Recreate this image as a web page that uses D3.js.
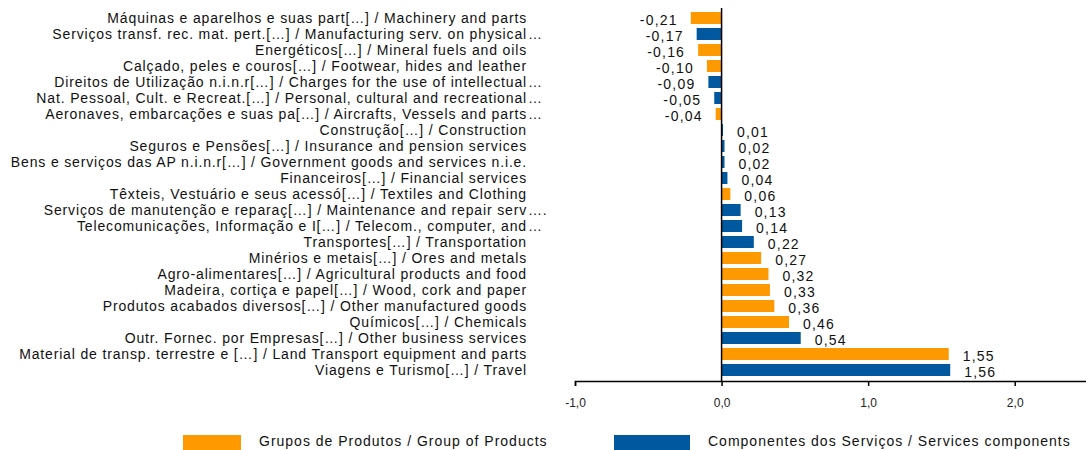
<!DOCTYPE html>
<html>
<head>
<meta charset="utf-8">
<script src="https://cdn.jsdelivr.net/npm/d3@7"></script>
<style>
  body { margin: 0; background: #fff; }
  svg { font-family: "Liberation Sans", Arial, sans-serif; }
</style>
</head>
<body>
<div id="chart"></div>
<script>
var categories = [
    "Máquinas e aparelhos e suas part[…] / Machinery and parts",
    "Serviços transf. rec. mat. pert.[…] / Manufacturing serv. on physical…",
    "Energéticos[…] / Mineral fuels and oils",
    "Calçado, peles e couros[…] / Footwear, hides and leather",
    "Direitos de Utilização n.i.n.r[…] / Charges for the use of intellectual…",
    "Nat. Pessoal, Cult. e Recreat.[…] / Personal, cultural and recreational…",
    "Aeronaves, embarcações e suas pa[…] / Aircrafts, Vessels and parts…",
    "Construção[…] / Construction",
    "Seguros e Pensões[…] / Insurance and pension services",
    "Bens e serviços das AP n.i.n.r[…] / Government goods and services n.i.e.",
    "Financeiros[…] / Financial services",
    "Têxteis, Vestuário e seus acessó[…] / Textiles and Clothing",
    "Serviços de manutenção e reparaç[…] / Maintenance and repair serv….",
    "Telecomunicações, Informação e I[…] / Telecom., computer, and…",
    "Transportes[…] / Transportation",
    "Minérios e metais[…] / Ores and metals",
    "Agro-alimentares[…] / Agricultural products and food",
    "Madeira, cortiça e papel[…] / Wood, cork and paper",
    "Produtos acabados diversos[…] / Other manufactured goods",
    "Químicos[…] / Chemicals",
    "Outr. Fornec. por Empresas[…] / Other business services",
    "Material de transp. terrestre e […] / Land Transport equipment and parts",
    "Viagens e Turismo[…] / Travel"
];
var values = [-0.21, -0.17, -0.16, -0.10, -0.09, -0.05, -0.04, 0.01, 0.02, 0.02, 0.04, 0.06,
    0.13, 0.14, 0.22, 0.27, 0.32, 0.33, 0.36, 0.46, 0.54, 1.55, 1.56];
// p = grupo de produtos, s = componente dos serviços
var groups = ["p", "s", "p", "p", "s", "s", "p", "s", "s", "s", "s", "p",
    "s", "s", "s", "p", "p", "p", "p", "p", "s", "p", "s"];
var seriesNames = ["Grupos de Produtos / Group of Products", "Componentes dos Serviços / Services components"];
var tickValues = [-1, 0, 1, 2];

var width = 1086, height = 450;
var color = { p: "#FF9900", s: "#00599F" };
var comma = function (f) {
    return function (v) { return d3.format(f)(v).replace("−", "-").replace(".", ","); };
};
var fmt = comma(".2f");

var dataset = categories.map(function (c, i) {
    return { name: c, value: values[i], group: groups[i] };
});

var svg = d3.select("#chart").append("svg")
    .attr("width", width)
    .attr("height", height);

var x = d3.scaleLinear().domain([-1, 2.5]).range([575, 1088]);
var y = d3.scaleBand().domain(categories).range([8, 380]).padding(0.25);

// barras
svg.append("g").selectAll("rect")
    .data(dataset)
    .enter()
    .append("rect")
    .attr("x", function (d) { return x(Math.min(0, d.value)); })
    .attr("y", function (d) { return y(d.name); })
    .attr("width", function (d) { return Math.abs(x(d.value) - x(0)); })
    .attr("height", y.bandwidth())
    .attr("fill", function (d) { return color[d.group]; });

// linha do zero
svg.append("line")
    .attr("x1", x(0)).attr("x2", x(0))
    .attr("y1", 8).attr("y2", 381)
    .attr("stroke", "#000")
    .attr("stroke-width", 1.5);

// eixo x
var axis = svg.append("g")
    .attr("transform", "translate(0,381)")
    .call(d3.axisBottom(x).tickValues(tickValues).tickSize(5).tickPadding(12)
        .tickFormat(comma(".1f")));
axis.select(".domain").attr("stroke", "#000").attr("stroke-width", 1.5);
axis.selectAll(".tick line").attr("stroke", "#000").attr("stroke-width", 1.5);
axis.selectAll(".tick text")
    .attr("font-size", "12px")
    .attr("font-family", "Liberation Sans, Arial, sans-serif")
    .attr("fill", "#222");

// rótulos das categorias (reticências ficam penduradas à direita)
var labels = svg.append("g").selectAll("g")
    .data(dataset)
    .enter()
    .append("g");

labels.append("text")
    .attr("x", 527)
    .attr("y", function (d) { return y(d.name) + y.bandwidth() / 2; })
    .attr("dy", "0.35em")
    .attr("text-anchor", "end")
    .attr("font-size", "14px")
    .attr("letter-spacing", "0.85px")
    .attr("fill", "#111")
    .text(function (d) { return d.name.replace(/…\.?$/, ""); });

labels.filter(function (d) { return /…\.?$/.test(d.name); })
    .append("text")
    .attr("x", 528)
    .attr("y", function (d) { return y(d.name) + y.bandwidth() / 2; })
    .attr("dy", "0.35em")
    .attr("font-size", "14px")
    .attr("letter-spacing", "0.85px")
    .attr("fill", "#111")
    .text(function (d) { return d.name.match(/…\.?$/)[0]; });

// valores
svg.append("g").selectAll("text")
    .data(dataset)
    .enter()
    .append("text")
    .attr("x", function (d) { return d.value < 0 ? x(d.value) - 13 : x(d.value) + 14; })
    .attr("y", function (d) { return y(d.name) + y.bandwidth() / 2 + 2; })
    .attr("dy", "0.35em")
    .attr("text-anchor", function (d) { return d.value < 0 ? "end" : "start"; })
    .attr("font-size", "14px")
    .attr("letter-spacing", "1.2px")
    .attr("fill", "#111")
    .text(function (d) { return fmt(d.value); });

// legenda
var legend = svg.append("g").selectAll("g")
    .data(seriesNames)
    .enter()
    .append("g")
    .attr("transform", function (d, i) { return "translate(" + [183, 614][i] + ",435)"; });

legend.append("rect")
    .attr("width", function (d, i) { return [58, 76][i]; })
    .attr("height", 16)
    .attr("fill", function (d, i) { return i == 0 ? color.p : color.s; });

legend.append("text")
    .attr("x", function (d, i) { return [76, 94][i]; })
    .attr("y", 6)
    .attr("dy", "0.35em")
    .attr("font-size", "14px")
    .attr("letter-spacing", "1px")
    .attr("fill", "#111")
    .text(function (d) { return d; });
</script>
</body>
</html>
